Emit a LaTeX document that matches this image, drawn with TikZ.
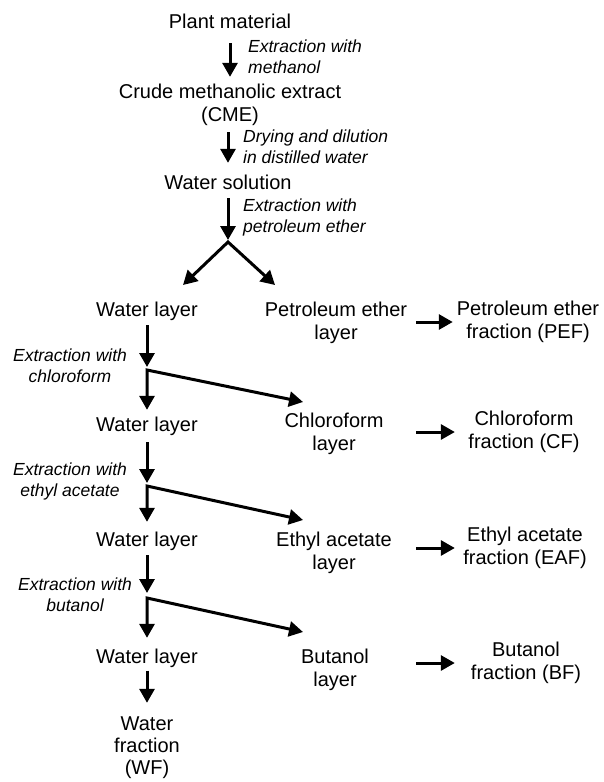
\documentclass[tikz,border=0pt]{standalone}
\usepackage{fontspec}
\setmainfont{Liberation Sans}
\usetikzlibrary{arrows.meta}
\begin{document}
\begin{tikzpicture}[x=1pt,y=-1pt,
  txt/.style={font=\fontsize{20}{23}\selectfont, align=center, inner sep=0pt},
  lbl/.style={font=\fontsize{17.5}{21}\selectfont\itshape, inner sep=0pt},
  tip/.tip={Triangle[length=14pt,width=15pt]},
  arr/.style={line width=3pt, -tip},
  arrb/.style={line width=3pt, tip-tip, line join=miter},
]
\useasboundingbox[fill=white] (0,0) rectangle (603,782);

% main nodes
\node[txt] (pm)  at (230,24)    {Plant material\strut};
\node[txt] (cme) at (230,105.5) {Crude methanolic extract\strut\\(CME)\strut};
\node[txt] (ws)  at (228,185)   {Water solution\strut};
\node[txt] (wl1) at (147,312)   {Water layer\strut};
\node[txt] (pel) at (336,323.5) {Petroleum ether\strut\\layer\strut};
\node[txt] (pef) at (528,322)   {Petroleum ether\strut\\fraction (PEF)\strut};
\node[txt] (wl2) at (147,427)   {Water layer\strut};
\node[txt] (cl)  at (334,434.5) {Chloroform\strut\\layer\strut};
\node[txt] (cf)  at (524,432)   {Chloroform\strut\\fraction (CF)\strut};
\node[txt] (wl3) at (147,542)   {Water layer\strut};
\node[txt] (eal) at (334,553)   {Ethyl acetate\strut\\layer\strut};
\node[txt] (eaf) at (525,548)   {Ethyl acetate\strut\\fraction (EAF)\strut};
\node[txt] (wl4) at (147,659)   {Water layer\strut};
\node[txt] (bl)  at (335,670)   {Butanol\strut\\layer\strut};
\node[txt] (bf)  at (526,663)   {Butanol\strut\\fraction (BF)\strut};
\node[txt, font=\fontsize{20}{22}\selectfont] (wf) at (147,748) {Water\strut\\fraction\strut\\(WF)\strut};

% labels
\node[lbl, anchor=west, align=left] (l1) at (248,59) {Extraction with\strut\\methanol\strut};
\node[lbl, anchor=west, align=left] (l2) at (243,149) {Drying and dilution\strut\\in distilled water\strut};
\node[lbl, anchor=west, align=left] (l3) at (243,217.5) {Extraction with\strut\\petroleum ether\strut};
\node[lbl, align=center] (l4) at (70,367.5) {Extraction with\strut\\chloroform\strut};
\node[lbl, align=center] (l5) at (70,481.5) {Extraction with\strut\\ethyl acetate\strut};
\node[lbl, align=center] (l6) at (75,596.5) {Extraction with\strut\\butanol\strut};

% coordinates for branch points and free ends
\coordinate (v)  at (228,242);
\coordinate (vl) at (183,285);
\coordinate (vr) at (275,285);
\coordinate (s1) at (147,370);
\coordinate (t1) at (303,402);
\coordinate (s2) at (147,486);
\coordinate (t2) at (303,520);
\coordinate (s3) at (147,598);
\coordinate (t3) at (303,632);

% top chain
\draw[arr, shorten <=7.5pt, shorten >=5.5pt] (pm) -- (cme);
\draw[arr, shorten <=3.5pt, shorten >=10.5pt] (cme.south -| ws.north) -- (ws.north);
\draw[arr, shorten <=1.5pt, shorten >=2pt] (ws) -- (v);
\draw[arrb] (vl) -- (v) -- (vr);

% left column
\draw[arr, shorten <=1.5pt, shorten >=3pt] (wl1) -- (s1);
\draw[arrb, shorten >=5.5pt] (t1) -- (s1) -- (wl2);
\draw[arr, shorten <=3.5pt, shorten >=3pt] (wl2) -- (s2);
\draw[arrb, shorten >=8.5pt] (t2) -- (s2) -- (wl3);
\draw[arr, shorten <=1.5pt, shorten >=5pt] (wl3) -- (s3);
\draw[arrb, shorten >=9.5pt] (t3) -- (s3) -- (wl4);
\draw[arr, shorten >=12pt] (wl4) -- (wf);

% right arrows
\draw[arr, shorten <=9pt, shorten >=3.9pt] (pef.west -| pel.east) -- (pef.west);
\draw[arr, shorten <=32.5pt, shorten >=13.4pt] (cf.west -| cl.east) -- (cf.west);
\draw[arr, shorten <=24.2pt, shorten >=8.3pt] (eaf.west -| eal.east) -- (eaf.west);
\draw[arr, shorten <=47pt, shorten >=16pt] (bf.west -| bl.east) -- (bf.west);
\end{tikzpicture}
\end{document}
